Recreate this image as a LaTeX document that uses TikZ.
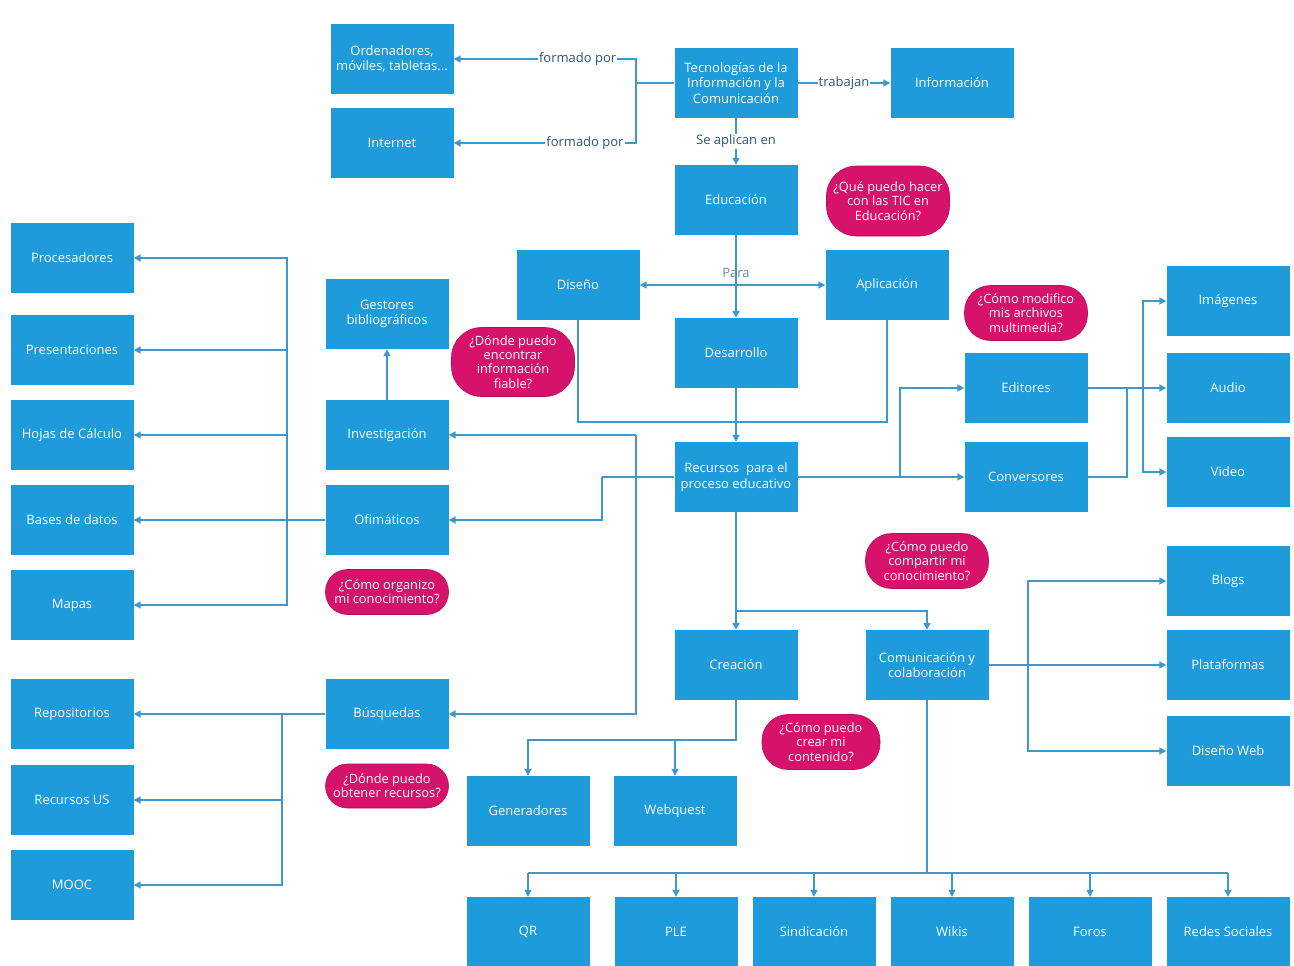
\documentclass[tikz,border=0pt]{standalone}
\usepackage{fontspec}
\setmainfont{Open Sans}
\usetikzlibrary{arrows.meta}
\definecolor{boxblue}{RGB}{29,155,218}
\definecolor{qpink}{RGB}{214,18,106}
\definecolor{linec}{RGB}{62,152,204}
\definecolor{lblc}{RGB}{45,85,115}
\begin{document}
\begin{tikzpicture}[x=1pt,y=-1pt,
 box/.style={rectangle, fill=boxblue, text=white, minimum width=123pt, minimum height=70pt, inner sep=1pt, align=center, font=\fontsize{13}{15.5}\selectfont},
 qbub/.style={rectangle, rounded corners=22pt, fill=qpink, draw=qpink!85!black, line width=0.6pt, text=white, minimum width=123pt, inner sep=1pt, align=center, font=\fontsize{12.8}{14.2}\selectfont},
 con/.style={draw=linec, line width=1.6pt},
 arr/.style={con, -{Triangle[length=7pt,width=7pt]}},
 darr/.style={con, {Triangle[length=7pt,width=7pt]}-{Triangle[length=7pt,width=7pt]}},
 lbl/.style={fill=white, text=lblc, inner sep=1pt, font=\fontsize{13}{15}\selectfont},
]
\fill[white] (0,0) rectangle (1294,966);
\useasboundingbox (0,0) rectangle (1294,966);

% boxes
\node[box] (ord) at (392,59) {Ordenadores,\\móviles, tabletas...};
\node[box] (int) at (392,143) {Internet};
\node[box] (tic) at (736,83) {Tecnologías de la\\Información y la\\Comunicación};
\node[box] (inf) at (952,83) {Información};
\node[box] (edu) at (736,200) {Educación};
\node[box] (dis) at (578,285) {Diseño};
\node[box] (apl) at (887,285) {Aplicación};
\node[box] (des) at (736,353) {Desarrollo};
\node[box] (rec) at (736,477) {Recursos\ \ para el\\proceso educativo};
\node[box] (ges) at (387,314) {Gestores\\bibliográficos};
\node[box] (inv) at (387,435) {Investigación};
\node[box] (ofi) at (387,520) {Ofimáticos};
\node[box] (pro) at (72,258) {Procesadores};
\node[box] (pre) at (72,350) {Presentaciones};
\node[box] (hoj) at (72,435) {Hojas de Cálculo};
\node[box] (bas) at (72,520) {Bases de datos};
\node[box] (map) at (72,605) {Mapas};
\node[box] (rep) at (72,714) {Repositorios};
\node[box] (rus) at (72,800) {Recursos US};
\node[box] (moo) at (72,885) {MOOC};
\node[box] (bus) at (387,714) {Búsquedas};
\node[box] (edi) at (1026,388) {Editores};
\node[box] (cnv) at (1026,477) {Conversores};
\node[box] (img) at (1228,301) {Imágenes};
\node[box] (aud) at (1228,388) {Audio};
\node[box] (vid) at (1228,472) {Video};
\node[box] (cre) at (736,665) {Creación};
\node[box] (com) at (927,665) {Comunicación y\\colaboración};
\node[box] (blo) at (1228,581) {Blogs};
\node[box] (pla) at (1228,665) {Plataformas};
\node[box] (dwe) at (1228,751) {Diseño Web};
\node[box] (gen) at (528,811) {Generadores};
\node[box] (web) at (675,811) {Webquest};
\node[box] (qr) at (528,932) {QR};
\node[box] (ple) at (676,932) {PLE};
\node[box] (sin) at (814,932) {Sindicación};
\node[box] (wik) at (952,932) {Wikis};
\node[box] (foro) at (1090,932) {Foros};
\node[box] (red) at (1228,932) {Redes Sociales};

% question bubbles
\node[qbub, minimum height=70pt, rounded corners=30pt] (q1) at (888,201) {¿Qué puedo hacer\\con las TIC en\\Educación?};
\node[qbub, minimum height=69pt, rounded corners=30pt] (q2) at (513,362) {¿Dónde puedo\\encontrar\\información\\fiable?};
\node[qbub, minimum height=55pt, rounded corners=26pt] (q3) at (1026,313) {¿Cómo modifico\\mis archivos\\multimedia?};
\node[qbub, minimum height=45pt] (q4) at (387,592) {¿Cómo organizo\\mi conocimiento?};
\node[qbub, minimum height=55pt, rounded corners=26pt] (q5) at (927,561) {¿Cómo puedo\\compartir mi\\conocimiento?};
\node[qbub, minimum height=55pt, minimum width=118pt, rounded corners=26pt] (q6) at (821,742) {¿Cómo puedo\\crear mi\\contenido?};
\node[qbub, minimum height=44pt] (q7) at (387,786) {¿Dónde puedo\\obtener recursos?};

% connectors
\coordinate (fb) at (636,83);
\draw[con] (tic.west) -- (fb);
\draw[arr] (fb) |- node[lbl,pos=0.66]{formado por} (ord.east);
\draw[arr] (fb) |- node[lbl,pos=0.64]{formado por} (int.east);
\draw[arr] (tic.east) -- node[lbl]{trabajan} (inf.west);
\draw[arr] (tic.south) -- node[lbl]{Se aplican en} (edu.north);
\draw[arr] (edu.south) -- (des.north);
\draw[darr] (dis.east) -- (apl.west);
\node[text=lblc!70, inner sep=1pt, font=\fontsize{13}{15}\selectfont] (para) at (736,273) {Para};
\coordinate (dl) at (736,422);
\draw[con] (dis.south) |- (dl) -| (apl.south);
\draw[arr] (des.south) -- (rec.north);
\coordinate (rl) at (602,477);
\draw[con] (rec.west) -- (rl);
\draw[arr] (rl) |- (ofi.east);
\coordinate (ib) at (636,435);
\draw[arr] (ib) -- (inv.east);
\draw[arr] (ib) |- (bus.east);
\draw[arr] (inv.north) -- (ges.south);
\coordinate (ob) at (287,520);
\draw[arr] (ofi.west) -- (bas.east);
\foreach \n in {pro,pre,hoj,map} \draw[arr] (ob) |- (\n.east);
\coordinate (bb) at (282,714);
\draw[arr] (bus.west) -- (rep.east);
\foreach \n in {rus,moo} \draw[arr] (bb) |- (\n.east);
\draw[arr] (rec.east) -- (cnv.west);
\coordinate (rb) at (900,477);
\draw[arr] (rb) |- (edi.west);
\coordinate (mb) at (1143,388);
\draw[con] (edi.east) -- (mb);
\draw[arr] (mb) |- (img.west);
\draw[arr] (mb) -- (aud.west);
\draw[arr] (mb) |- (vid.west);
\coordinate (cb) at (1127,388);
\draw[con] (cnv.east) -| (cb);
\coordinate (rd) at (736,611);
\draw[arr] (rec.south) -- (cre.north);
\draw[arr] (rd) -| (com.north);
\draw[arr] (com.east) -- (pla.west);
\coordinate (kb) at (1028,665);
\draw[arr] (kb) |- (blo.west);
\draw[arr] (kb) |- (dwe.west);
\coordinate (cd) at (736,740);
\draw[arr] (cre.south) -- (cd) -| (gen.north);
\draw[arr] (web.north |- cd) -- (web.north);
\coordinate (md) at (927,873);
\draw[con] (com.south) -- (md);
\draw[con] (qr.north |- md) -- (red.north |- md);
\foreach \n in {qr,ple,sin,wik,foro,red} \draw[arr] (\n.north |- md) -- (\n.north);
\end{tikzpicture}
\end{document}
